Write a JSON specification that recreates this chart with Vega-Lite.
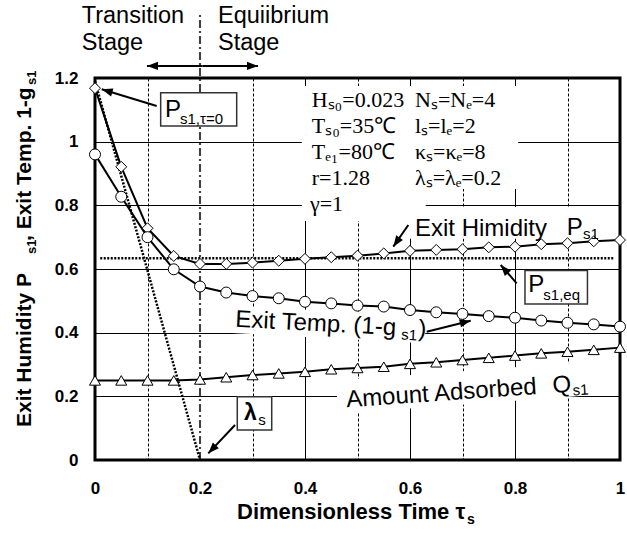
{
  "$schema": "https://vega.github.io/schema/vega-lite/v6.json",
  "width": 525,
  "height": 382,
  "autosize": {"type": "none"},
  "padding": {"left": 95, "top": 78, "right": 7, "bottom": 75},
  "background": "white",
  "config": {
    "view": {"stroke": "black", "strokeWidth": 3},
    "text": {"align": "left", "baseline": "alphabetic", "color": "black"}
  },
  "datasets": {
    "series": [
      {"x": 0, "y": 1.168, "s": "P"}, {"x": 0.05, "y": 0.921, "s": "P"}, {"x": 0.1, "y": 0.728, "s": "P"}, {"x": 0.15, "y": 0.641, "s": "P"}, {"x": 0.2, "y": 0.616, "s": "P"}, {"x": 0.25, "y": 0.616, "s": "P"}, {"x": 0.3, "y": 0.62, "s": "P"}, {"x": 0.35, "y": 0.626, "s": "P"}, {"x": 0.4, "y": 0.632, "s": "P"}, {"x": 0.45, "y": 0.637, "s": "P"}, {"x": 0.5, "y": 0.642, "s": "P"}, {"x": 0.55, "y": 0.649, "s": "P"}, {"x": 0.6, "y": 0.657, "s": "P"}, {"x": 0.65, "y": 0.66, "s": "P"}, {"x": 0.7, "y": 0.662, "s": "P"}, {"x": 0.75, "y": 0.668, "s": "P"}, {"x": 0.8, "y": 0.67, "s": "P"}, {"x": 0.85, "y": 0.678, "s": "P"}, {"x": 0.9, "y": 0.681, "s": "P"}, {"x": 0.95, "y": 0.687, "s": "P"}, {"x": 1, "y": 0.691, "s": "P"},
      {"x": 0, "y": 0.96, "s": "G"}, {"x": 0.05, "y": 0.827, "s": "G"}, {"x": 0.1, "y": 0.7, "s": "G"}, {"x": 0.15, "y": 0.599, "s": "G"}, {"x": 0.2, "y": 0.545, "s": "G"}, {"x": 0.25, "y": 0.526, "s": "G"}, {"x": 0.3, "y": 0.515, "s": "G"}, {"x": 0.35, "y": 0.508, "s": "G"}, {"x": 0.4, "y": 0.497, "s": "G"}, {"x": 0.45, "y": 0.492, "s": "G"}, {"x": 0.5, "y": 0.485, "s": "G"}, {"x": 0.55, "y": 0.482, "s": "G"}, {"x": 0.6, "y": 0.471, "s": "G"}, {"x": 0.65, "y": 0.464, "s": "G"}, {"x": 0.7, "y": 0.459, "s": "G"}, {"x": 0.75, "y": 0.452, "s": "G"}, {"x": 0.8, "y": 0.447, "s": "G"}, {"x": 0.85, "y": 0.438, "s": "G"}, {"x": 0.9, "y": 0.431, "s": "G"}, {"x": 0.95, "y": 0.426, "s": "G"}, {"x": 1, "y": 0.419, "s": "G"},
      {"x": 0, "y": 0.25, "s": "Q"}, {"x": 0.05, "y": 0.25, "s": "Q"}, {"x": 0.1, "y": 0.25, "s": "Q"}, {"x": 0.15, "y": 0.25, "s": "Q"}, {"x": 0.2, "y": 0.253, "s": "Q"}, {"x": 0.25, "y": 0.26, "s": "Q"}, {"x": 0.3, "y": 0.267, "s": "Q"}, {"x": 0.35, "y": 0.272, "s": "Q"}, {"x": 0.4, "y": 0.277, "s": "Q"}, {"x": 0.45, "y": 0.285, "s": "Q"}, {"x": 0.5, "y": 0.289, "s": "Q"}, {"x": 0.55, "y": 0.293, "s": "Q"}, {"x": 0.6, "y": 0.302, "s": "Q"}, {"x": 0.65, "y": 0.307, "s": "Q"}, {"x": 0.7, "y": 0.314, "s": "Q"}, {"x": 0.75, "y": 0.321, "s": "Q"}, {"x": 0.8, "y": 0.328, "s": "Q"}, {"x": 0.85, "y": 0.335, "s": "Q"}, {"x": 0.9, "y": 0.34, "s": "Q"}, {"x": 0.95, "y": 0.346, "s": "Q"}, {"x": 1, "y": 0.353, "s": "Q"}
    ],
    "masks": [
      {"m": "params", "x": 0.394, "y": 1.175, "y2": 0.851}, {"m": "params", "x": 0.806, "y": 1.175, "y2": 0.851},
      {"m": "gamma", "x": 0.394, "y": 0.851, "y2": 0.751}, {"m": "gamma", "x": 0.63, "y": 0.851, "y2": 0.751},
      {"m": "humid", "x": 0.596, "y": 0.795, "y2": 0.695}, {"m": "humid", "x": 0.965, "y": 0.795, "y2": 0.695},
      {"m": "temp", "x": 0.261, "y": 0.484, "y2": 0.399}, {"m": "temp", "x": 0.629, "y": 0.452, "y2": 0.367},
      {"m": "amount", "x": 0.461, "y": 0.25, "y2": 0.145}, {"m": "amount", "x": 0.956, "y": 0.31, "y2": 0.205}
    ],
    "boxes": [
      {"x": 0.1251, "x2": 0.2699, "y": 1.049, "y2": 1.154},
      {"x": 0.271, "x2": 0.3366, "y": 0.094, "y2": 0.199},
      {"x": 0.819, "x2": 0.938, "y": 0.49, "y2": 0.595}
    ],
    "segs": [
      {"k": "dot", "x": 0.01, "y": 0.634, "x2": 0.99, "y2": 0.634},
      {"k": "dot", "x": 0, "y": 1.19, "x2": 0.2, "y2": 0},
      {"k": "dashdot", "x": 0.2, "y": 0, "x2": 0.2, "y2": 1.4},
      {"k": "arrow", "x": 0.1175, "y": 1.112, "x2": 0.0128, "y2": 1.1646},
      {"k": "arrow", "x": 0.5968, "y": 0.7383, "x2": 0.5682, "y2": 0.6701},
      {"k": "arrow", "x": 0.6318, "y": 0.4031, "x2": 0.7156, "y2": 0.4376},
      {"k": "arrow", "x": 0.8032, "y": 0.5551, "x2": 0.7728, "y2": 0.6126},
      {"k": "arrow", "x": 0.2667, "y": 0.11, "x2": 0.2158, "y2": 0.021},
      {"k": "arrow", "x": 0.205, "y": 1.2379, "x2": 0.099, "y2": 1.2379},
      {"k": "arrow", "x": 0.205, "y": 1.2379, "x2": 0.3105, "y2": 1.2379}
    ],
    "texts": [
      {"k": "top", "x": -0.0253, "y": 1.372, "t": "Transition"},
      {"k": "top", "x": -0.0253, "y": 1.289, "t": "Stage"},
      {"k": "top", "x": 0.2343, "y": 1.372, "t": "Equiibrium"},
      {"k": "top", "x": 0.2343, "y": 1.289, "t": "Stage"},
      {"k": "param", "x": 0.4128, "y": 1.1089, "t": "Hₛ₀=0.023"},
      {"k": "param", "x": 0.6095, "y": 1.1089, "t": "Nₛ=Nₑ=4"},
      {"k": "param", "x": 0.4128, "y": 1.0272, "t": "Tₛ₀=35℃"},
      {"k": "param", "x": 0.6095, "y": 1.0272, "t": "lₛ=lₑ=2"},
      {"k": "param", "x": 0.4128, "y": 0.9455, "t": "Tₑ₁=80℃"},
      {"k": "param", "x": 0.6095, "y": 0.9455, "t": "κₛ=κₑ=8"},
      {"k": "param", "x": 0.4128, "y": 0.8639, "t": "r=1.28"},
      {"k": "param", "x": 0.6095, "y": 0.8639, "t": "λₛ=λₑ=0.2"},
      {"k": "param", "x": 0.4095, "y": 0.7822, "t": "γ=1"},
      {"k": "lab", "x": 0.6095, "y": 0.7037, "t": "Exit Himidity"},
      {"k": "lab", "x": 0.8985, "y": 0.7068, "t": "P"},
      {"k": "labsub", "x": 0.9295, "y": 0.6942, "t": "s1"},
      {"k": "r3", "x": 0.2667, "y": 0.4187, "t": "Exit Temp. (1-g"},
      {"k": "r3sub", "x": 0.5829, "y": 0.3785, "t": "s1"},
      {"k": "r3", "x": 0.6152, "y": 0.3886, "t": ")"},
      {"k": "r4", "x": 0.4794, "y": 0.1656, "t": "Amount Adsorbed"},
      {"k": "r4", "x": 0.8724, "y": 0.2108, "t": "Q"},
      {"k": "r4sub", "x": 0.9105, "y": 0.2026, "t": "s1"},
      {"k": "boxP", "x": 0.1333, "y": 1.0785, "t": "P"},
      {"k": "boxSub", "x": 0.1619, "y": 1.0546, "t": "s1,τ=0"},
      {"k": "boxL", "x": 0.2838, "y": 0.1257, "t": "λ"},
      {"k": "boxSub", "x": 0.311, "y": 0.11, "t": "s"},
      {"k": "boxP", "x": 0.8253, "y": 0.5287, "t": "P"},
      {"k": "boxSub", "x": 0.8539, "y": 0.5026, "t": "s1,eq"},
      {"k": "xt", "x": 0.2705, "y": -0.1853, "t": "Dimensionless Time τ"},
      {"k": "xts", "x": 0.7086, "y": -0.2011, "t": "s"},
      {"k": "yt", "x": -0.1219, "y": 0.1037, "t": "Exit Humidity  P"},
      {"k": "yts", "x": -0.1124, "y": 0.6471, "t": "s1"},
      {"k": "yt", "x": -0.1219, "y": 0.688, "t": ", Exit Temp. 1-g"},
      {"k": "yts", "x": -0.1124, "y": 1.178, "t": "s1"}
    ]
  },
  "layer": [
    {
      "data": {"name": "masks"},
      "mark": {"type": "area", "color": "white", "opacity": 1},
      "encoding": {
        "x": {"field": "x", "type": "quantitative",
          "scale": {"domain": [0, 1], "nice": false, "zero": false},
          "axis": {
            "title": null,
            "values": [0, 0.05, 0.1, 0.15, 0.2, 0.25, 0.3, 0.35, 0.4, 0.45, 0.5, 0.55, 0.6, 0.65, 0.7, 0.75, 0.8, 0.85, 0.9, 0.95, 1],
            "domain": false, "ticks": false, "tickSize": 0,
            "grid": true, "gridColor": "black", "gridWidth": 1,
            "gridDash": {"condition": {"test": "abs(datum.value*5-round(datum.value*5))<0.001", "value": []}, "value": [3, 2]},
            "gridOpacity": {"condition": {"test": "abs(datum.value-0.2)<0.001", "value": 0}, "value": 1},
            "labelExpr": "abs(datum.value*5-round(datum.value*5))<0.001 ? format(datum.value, '.1~f') : ''",
            "labelFont": "Liberation Sans", "labelFontWeight": "bold", "labelFontSize": 17, "labelColor": "black",
            "labelPadding": 20, "labelFlush": false, "labelOverlap": false, "labelBound": false
          }
        },
        "y": {"field": "y", "type": "quantitative",
          "scale": {"domain": [0, 1.2], "nice": false, "zero": false},
          "axis": {
            "title": null,
            "values": [0, 0.05, 0.1, 0.15, 0.2, 0.25, 0.3, 0.35, 0.4, 0.45, 0.5, 0.55, 0.6, 0.65, 0.7, 0.75, 0.8, 0.85, 0.9, 0.95, 1, 1.05, 1.1, 1.15, 1.2],
            "domain": false, "ticks": false, "tickSize": 0,
            "grid": true, "gridColor": "black", "gridWidth": 1,
            "gridDash": {"condition": {"test": "abs(datum.value*5-round(datum.value*5))<0.001", "value": []}, "value": [3, 2]},
            "labelExpr": "abs(datum.value*5-round(datum.value*5))<0.001 ? format(datum.value, '.1~f') : ''",
            "labelFont": "Liberation Sans", "labelFontWeight": "bold", "labelFontSize": 17, "labelColor": "black",
            "labelPadding": 17, "labelFlush": false, "labelOverlap": false, "labelBound": false
          }
        },
        "y2": {"field": "y2"},
        "detail": {"field": "m"}
      }
    },
    {
      "data": {"name": "segs"},
      "transform": [{"filter": "datum.k == 'dot'"}],
      "mark": {"type": "rule", "color": "black", "strokeWidth": 2.5, "strokeDash": [2, 1.5]},
      "encoding": {"x": {"field": "x", "type": "quantitative"}, "y": {"field": "y", "type": "quantitative"}, "x2": {"field": "x2"}, "y2": {"field": "y2"}}
    },
    {
      "data": {"name": "segs"},
      "transform": [{"filter": "datum.k == 'dashdot'"}],
      "mark": {"type": "rule", "color": "black", "strokeWidth": 1.5, "strokeDash": [8, 3, 2, 3]},
      "encoding": {"x": {"field": "x", "type": "quantitative"}, "y": {"field": "y", "type": "quantitative"}, "x2": {"field": "x2"}, "y2": {"field": "y2"}}
    },
    {
      "data": {"name": "series"},
      "mark": {"type": "line", "color": "black", "strokeWidth": 2},
      "encoding": {"x": {"field": "x", "type": "quantitative"}, "y": {"field": "y", "type": "quantitative"}, "detail": {"field": "s"}}
    },
    {
      "data": {"name": "series"},
      "mark": {"type": "point", "filled": true, "fill": "white", "stroke": "black", "strokeWidth": 1, "opacity": 1},
      "encoding": {
        "x": {"field": "x", "type": "quantitative"},
        "y": {"field": "y", "type": "quantitative"},
        "shape": {"field": "s", "type": "nominal", "scale": {"domain": ["P", "G", "Q"], "range": ["diamond", "circle", "triangle-up"]}, "legend": null},
        "size": {"field": "s", "type": "nominal", "scale": {"domain": ["P", "G", "Q"], "range": [120, 121, 115]}, "legend": null}
      }
    },
    {
      "data": {"name": "boxes"},
      "mark": {"type": "rect", "fill": "white", "stroke": "#333333", "strokeWidth": 1.5},
      "encoding": {"x": {"field": "x", "type": "quantitative"}, "x2": {"field": "x2"}, "y": {"field": "y", "type": "quantitative"}, "y2": {"field": "y2"}}
    },
    {
      "data": {"name": "segs"},
      "transform": [{"filter": "datum.k == 'arrow'"}],
      "mark": {"type": "rule", "color": "black", "strokeWidth": 2},
      "encoding": {"x": {"field": "x", "type": "quantitative"}, "y": {"field": "y", "type": "quantitative"}, "x2": {"field": "x2"}, "y2": {"field": "y2"}}
    },
    {
      "data": {"name": "segs"},
      "transform": [{"filter": "datum.k == 'arrow'"}, {"calculate": "atan2(-(datum.y2-datum.y)*318.33, (datum.x2-datum.x)*525)*180/PI", "as": "ang"}],
      "mark": {"type": "point", "shape": "M0,0L-2,-0.75L-2,0.75Z", "filled": true, "color": "black", "size": 121, "opacity": 1},
      "encoding": {"x": {"field": "x2", "type": "quantitative"}, "y": {"field": "y2", "type": "quantitative"}, "angle": {"field": "ang", "type": "quantitative", "scale": null}}
    },
    {"data": {"name": "texts"}, "transform": [{"filter": "datum.k == 'top'"}],
      "mark": {"type": "text", "font": "Liberation Sans", "fontSize": 23.5},
      "encoding": {"x": {"field": "x", "type": "quantitative"}, "y": {"field": "y", "type": "quantitative"}, "text": {"field": "t"}}},
    {"data": {"name": "texts"}, "transform": [{"filter": "datum.k == 'param'"}],
      "mark": {"type": "text", "font": "Liberation Serif", "fontSize": 22},
      "encoding": {"x": {"field": "x", "type": "quantitative"}, "y": {"field": "y", "type": "quantitative"}, "text": {"field": "t"}}},
    {"data": {"name": "texts"}, "transform": [{"filter": "datum.k == 'lab' || datum.k == 'boxP'"}],
      "mark": {"type": "text", "font": "Liberation Sans", "fontSize": 24},
      "encoding": {"x": {"field": "x", "type": "quantitative"}, "y": {"field": "y", "type": "quantitative"}, "text": {"field": "t"}}},
    {"data": {"name": "texts"}, "transform": [{"filter": "datum.k == 'labsub' || datum.k == 'boxSub'"}],
      "mark": {"type": "text", "font": "Liberation Sans", "fontSize": 15},
      "encoding": {"x": {"field": "x", "type": "quantitative"}, "y": {"field": "y", "type": "quantitative"}, "text": {"field": "t"}}},
    {"data": {"name": "texts"}, "transform": [{"filter": "datum.k == 'boxL'"}],
      "mark": {"type": "text", "font": "Liberation Sans", "fontSize": 23, "fontWeight": "bold"},
      "encoding": {"x": {"field": "x", "type": "quantitative"}, "y": {"field": "y", "type": "quantitative"}, "text": {"field": "t"}}},
    {"data": {"name": "texts"}, "transform": [{"filter": "datum.k == 'r3'"}],
      "mark": {"type": "text", "font": "Liberation Sans", "fontSize": 24, "angle": 3},
      "encoding": {"x": {"field": "x", "type": "quantitative"}, "y": {"field": "y", "type": "quantitative"}, "text": {"field": "t"}}},
    {"data": {"name": "texts"}, "transform": [{"filter": "datum.k == 'r3sub'"}],
      "mark": {"type": "text", "font": "Liberation Sans", "fontSize": 15, "angle": 3},
      "encoding": {"x": {"field": "x", "type": "quantitative"}, "y": {"field": "y", "type": "quantitative"}, "text": {"field": "t"}}},
    {"data": {"name": "texts"}, "transform": [{"filter": "datum.k == 'r4'"}],
      "mark": {"type": "text", "font": "Liberation Sans", "fontSize": 24, "angle": 356},
      "encoding": {"x": {"field": "x", "type": "quantitative"}, "y": {"field": "y", "type": "quantitative"}, "text": {"field": "t"}}},
    {"data": {"name": "texts"}, "transform": [{"filter": "datum.k == 'r4sub'"}],
      "mark": {"type": "text", "font": "Liberation Sans", "fontSize": 15, "angle": 356},
      "encoding": {"x": {"field": "x", "type": "quantitative"}, "y": {"field": "y", "type": "quantitative"}, "text": {"field": "t"}}},
    {"data": {"name": "texts"}, "transform": [{"filter": "datum.k == 'xt'"}],
      "mark": {"type": "text", "font": "Liberation Sans", "fontSize": 22, "fontWeight": "bold"},
      "encoding": {"x": {"field": "x", "type": "quantitative"}, "y": {"field": "y", "type": "quantitative"}, "text": {"field": "t"}}},
    {"data": {"name": "texts"}, "transform": [{"filter": "datum.k == 'xts'"}],
      "mark": {"type": "text", "font": "Liberation Sans", "fontSize": 14, "fontWeight": "bold"},
      "encoding": {"x": {"field": "x", "type": "quantitative"}, "y": {"field": "y", "type": "quantitative"}, "text": {"field": "t"}}},
    {"data": {"name": "texts"}, "transform": [{"filter": "datum.k == 'yt'"}],
      "mark": {"type": "text", "font": "Liberation Sans", "fontSize": 21, "fontWeight": "bold", "angle": 270},
      "encoding": {"x": {"field": "x", "type": "quantitative"}, "y": {"field": "y", "type": "quantitative"}, "text": {"field": "t"}}},
    {"data": {"name": "texts"}, "transform": [{"filter": "datum.k == 'yts'"}],
      "mark": {"type": "text", "font": "Liberation Sans", "fontSize": 13, "fontWeight": "bold", "angle": 270},
      "encoding": {"x": {"field": "x", "type": "quantitative"}, "y": {"field": "y", "type": "quantitative"}, "text": {"field": "t"}}}
  ]
}
